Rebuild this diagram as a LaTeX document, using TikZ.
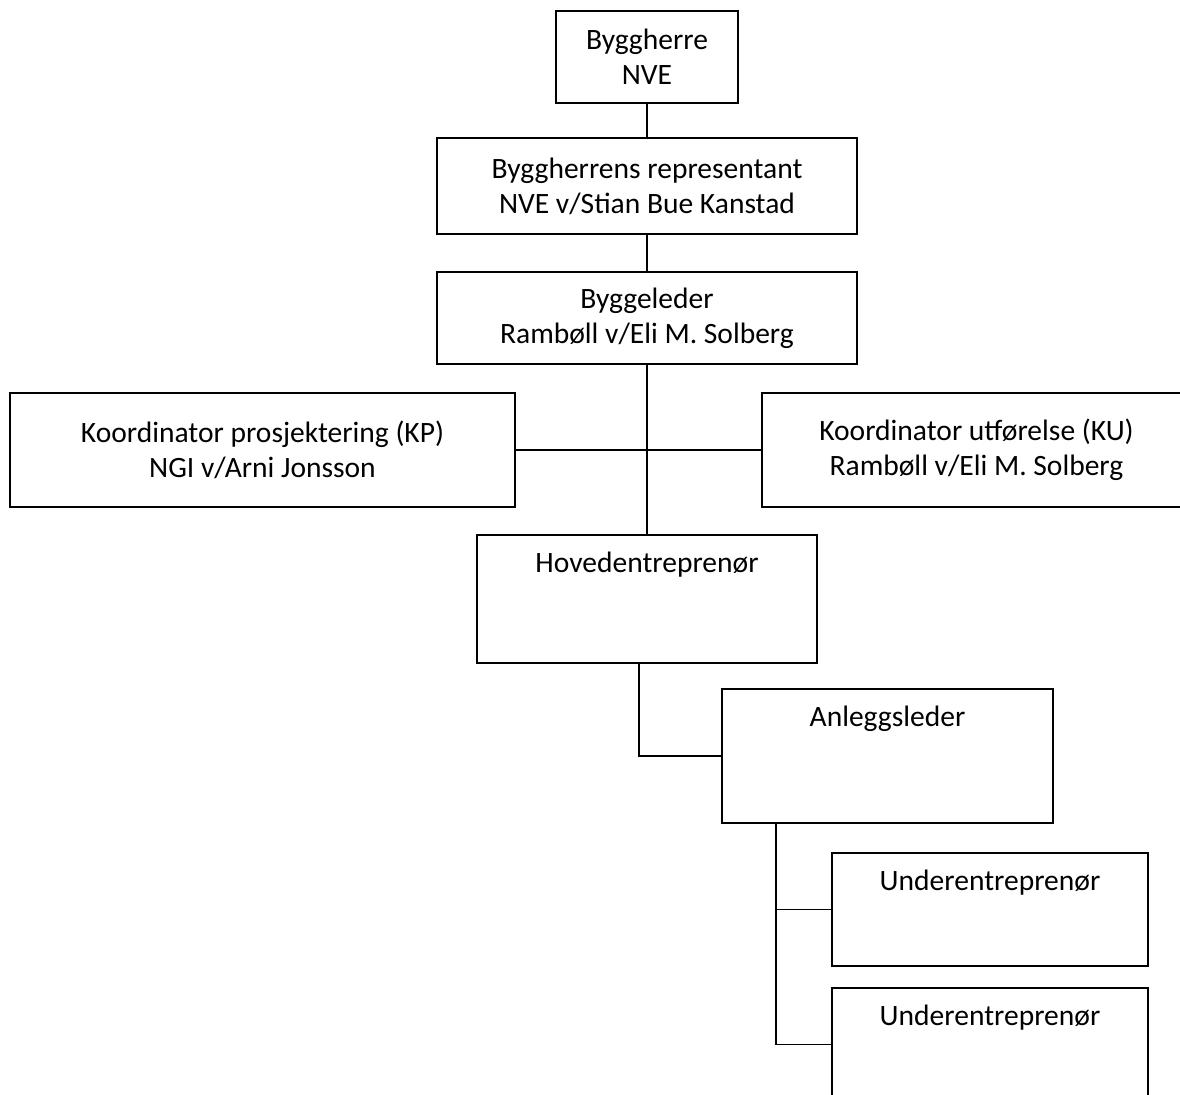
\documentclass[tikz,border=0pt]{standalone}
\usepackage{fontspec}
\setmainfont{Carlito}
\usepackage{tikz}
\usetikzlibrary{positioning}

\begin{document}
\begin{tikzpicture}[x=0.025cm, y=-0.025cm,
    box/.style={rectangle, draw, line width=1.4pt, align=center, font=\fontsize{21}{25}\selectfont},
    topbox/.style={box, inner sep=0pt, text height=0.95cm},
    link/.style={line width=1.4pt}]

    \useasboundingbox (0,0) rectangle (1180,1095);
    \clip (0,0) rectangle (1180,1095);

    % Nodes
    \node (bh) [box, minimum width=4.55cm, minimum height=2.3cm] at (647,57) {Byggherre\\NVE};
    \node (rep) [below=0.825cm of bh, box, minimum width=10.5cm, minimum height=2.4cm] {Byggherrens representant\\NVE v/Stian Bue Kanstad};
    \node (bl) [below=0.9cm of rep, box, minimum width=10.5cm, minimum height=2.3cm] {Byggeleder\\Rambøll v/Eli M. Solberg};
    \node (kp) [box, minimum width=12.625cm, minimum height=2.85cm] at (262.5,450) {Koordinator prosjektering (KP)\\NGI v/Arni Jonsson};
    \node (ku) [box, minimum width=10.725cm, minimum height=2.85cm] at (976.5,450) {Koordinator utførelse (KU)\\Rambøll v/Eli M. Solberg};
    \node (hoved) [topbox, minimum width=8.475cm, minimum height=3.2cm, text depth=2.25cm] at (647,599) {Hovedentreprenør};
    \node (anl) [topbox, minimum width=8.275cm, minimum height=3.35cm, text depth=2.4cm] at (887.5,756) {Anleggsleder};
    \node (u1) [topbox, minimum width=7.9cm, minimum height=2.825cm, text depth=1.875cm] at (990,909.5) {Underentreprenør};
    \node (u2) [topbox, minimum width=7.9cm, minimum height=2.825cm, text depth=1.875cm] at (990,1044.5) {Underentreprenør};

    % Edges
    \draw[link] (bh) -- (rep);
    \draw[link] (rep) -- (bl);
    \draw[link] (bl) -- (hoved);
    \draw[link] (kp) -- (ku);
    \draw[link] ([xshift=-0.19cm]hoved.south) |- (anl.west);
    \draw[link] ([xshift=1.375cm]anl.south west) |- (u1.west);
    \draw[link] ([xshift=1.375cm]anl.south west) |- (u2.west);
\end{tikzpicture}
\end{document}
